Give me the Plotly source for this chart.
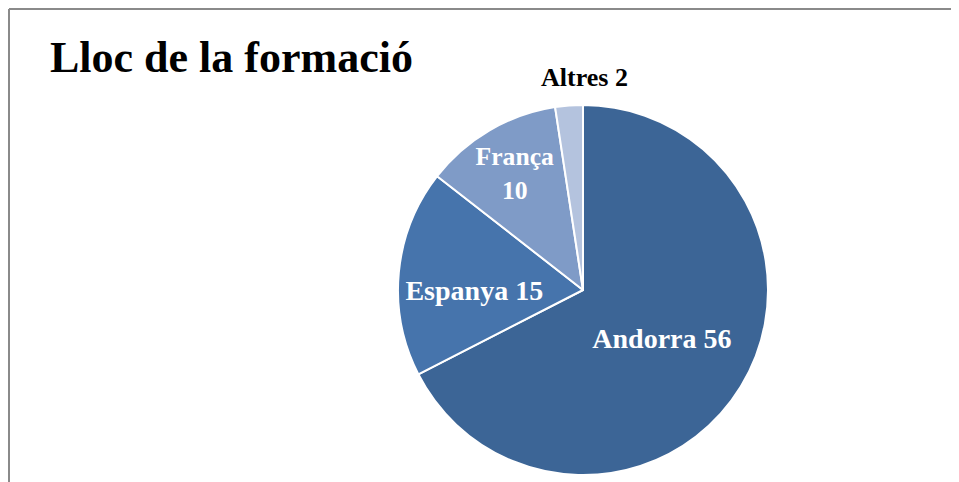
import plotly.graph_objects as go

labels = ["Andorra", "Espanya", "França", "Altres"]
values = [56, 15, 10, 2]
colors = ["#3C6596", "#4674AC", "#7F9BC7", "#B4C3DE"]
text_colors = ["white", "white", "white", "black"]
positions = ["inside", "inside", "inside", "none"]
templates = ["%{label} %{value}", "%{label} %{value}", "%{label}<br>%{value}", ""]
title = "Lloc de la formació"

# page body has an 8px margin, so the figure is drawn 8px in from the window edge
W, H = 951, 474
cx, cy, r = 575, 282, 185

fig = go.Figure(go.Pie(
    labels=labels,
    values=values,
    sort=False,
    direction="clockwise",
    rotation=0,
    marker=dict(colors=colors, line=dict(color="white", width=2)),
    texttemplate=templates,
    textposition=positions,
    insidetextorientation="horizontal",
    textfont=dict(family="Liberation Serif", size=28, color=text_colors, weight="bold"),
    showlegend=False,
    hoverinfo="label+value",
    domain=dict(x=[(cx - r) / W, (cx + r) / W], y=[1 - (cy + r) / H, 1 - (cy - r) / H]),
))

# label for the small slice, placed above the pie
fig.add_annotation(
    text=f"<b>{labels[3]} {values[3]}</b>",
    xref="paper", yref="paper",
    x=(cx + 1) / W, y=1 - (cy - r - 28) / H,
    xanchor="center", yanchor="middle", showarrow=False,
    font=dict(family="Liberation Serif", size=26, color="black"),
)

fig.update_layout(
    width=W, height=H,
    margin=dict(l=0, r=0, t=0, b=0),
    paper_bgcolor="white",
    plot_bgcolor="white",
    title=dict(text="<b>" + title + "</b>", x=42 / W, xanchor="left", y=1 - 49 / H, yanchor="middle",
               font=dict(family="Liberation Serif", size=44, color="black")),
    shapes=[
        dict(type="line", xref="paper", yref="paper", x0=1 / W, x1=1.05, y0=1 - 1 / H, y1=1 - 1 / H,
             line=dict(color="#8a8a8a", width=2)),
        dict(type="line", xref="paper", yref="paper", x0=1 / W, x1=1 / W, y0=-0.05, y1=1 - 1 / H,
             line=dict(color="#8a8a8a", width=2)),
    ],
)

fig.write_html("out.html")
